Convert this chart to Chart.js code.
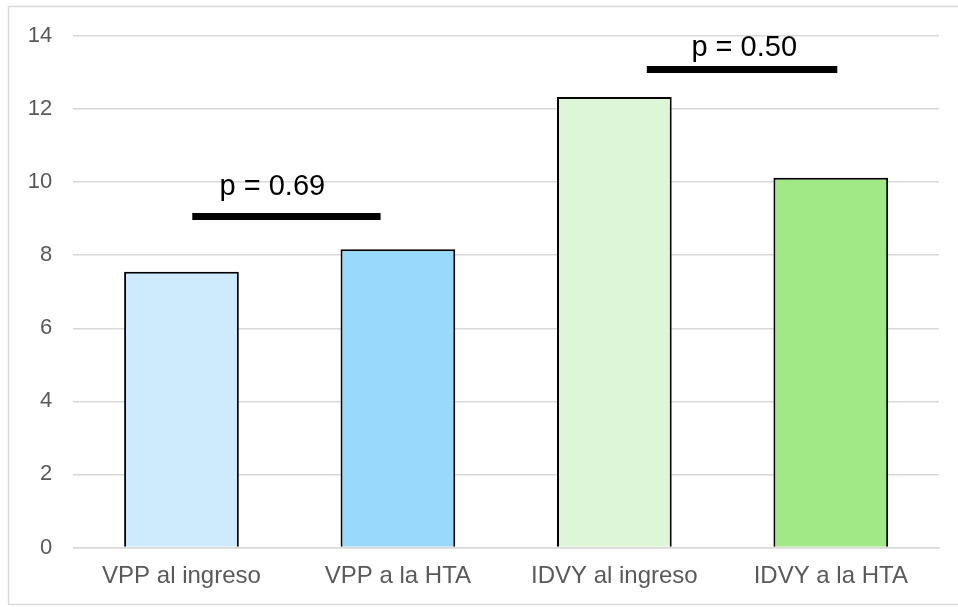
<!DOCTYPE html>
<html>
<head>
<meta charset="utf-8">
<script src="https://cdn.jsdelivr.net/npm/chart.js@4/dist/chart.umd.min.js"></script>
<style>
  html, body { margin: 0; padding: 0; background: #fff; }
  #wrap { width: 958px; height: 607px; position: relative; }
</style>
</head>
<body>
<div id="wrap"><canvas id="c"></canvas></div>
<script>
const categories = ['VPP al ingreso', 'VPP a la HTA', 'IDVY al ingreso', 'IDVY a la HTA'];
const values = [7.55, 8.16, 12.33, 10.12];
const barColors = ['#cdebfd', '#99dafc', '#ddf6d7', '#a1e986'];
const yTicks = [0, 2, 4, 6, 8, 10, 12, 14];

// comparison bars: category span, height, p label
const pText = ['p = 0.69', 'p = 0.50'];
const pLevel = [9.06, 13.08];
const pFrom = [0.05, 2.15];
const pTo = [0.92, 3.03];
const pTextX = [0.42, 2.6];
const pTextY = [9.64, 13.44];

const FONT = '"Liberation Sans", Arial, sans-serif';

let lineSets = pText.map((t, i) => ({
  type: 'line',
  xAxisID: 'xl',
  data: [{x: pFrom[i], y: pLevel[i]}, {x: pTo[i], y: pLevel[i]}],
  borderColor: '#000',
  borderWidth: 7,
  borderCapStyle: 'butt',
  pointRadius: 0,
  fill: false,
  order: 0
}));

const framePlugin = {
  id: 'frame',
  beforeDraw(chart) {
    let ctx = chart.ctx;
    ctx.save();
    ctx.fillStyle = '#fff';
    ctx.fillRect(0, 0, chart.width, chart.height);
    ctx.strokeStyle = '#d9d9d9';
    ctx.lineWidth = 1.5;
    ctx.strokeRect(8.5, 6.5, chart.width + 10, 598);
    ctx.restore();
  }
};

const pLabelPlugin = {
  id: 'plabels',
  afterDatasetsDraw(chart) {
    let ctx = chart.ctx;
    let xs = chart.scales.xl, ys = chart.scales.y;
    ctx.save();
    ctx.fillStyle = '#000';
    ctx.font = '29px ' + FONT;
    ctx.textAlign = 'center';
    ctx.textBaseline = 'alphabetic';
    pText.forEach((t, i) => {
      ctx.fillText(t, xs.getPixelForValue(pTextX[i]), ys.getPixelForValue(pTextY[i]));
    });
    ctx.restore();
  }
};

new Chart(document.getElementById('c'), {
  type: 'bar',
  data: {
    labels: categories,
    datasets: [{
      data: values,
      backgroundColor: barColors,
      borderColor: '#000',
      borderWidth: 2,
      grouped: false,
      categoryPercentage: 1,
      barPercentage: 0.53,
      order: 1
    }].concat(lineSets)
  },
  options: {
    responsive: true,
    maintainAspectRatio: false,
    animation: false,
    layout: { padding: { left: 0, right: 19, top: 36, bottom: 0 } },
    plugins: { legend: { display: false }, tooltip: { enabled: false } },
    scales: {
      x: {
        grid: { display: false, drawTicks: false },
        border: { color: '#d9d9d9', width: 1.5 },
        ticks: { color: '#595959', font: { family: FONT, size: 24 }, padding: 14, maxRotation: 0, autoSkip: false },
        afterFit: s => { s.height = 59.5; }
      },
      xl: {
        type: 'linear',
        display: false,
        offset: false,
        min: -0.5,
        max: 3.5
      },
      y: {
        min: 0,
        max: 14,
        afterBuildTicks: s => { s.ticks = yTicks.map(v => ({value: v})); },
        grid: { color: '#d9d9d9', lineWidth: 1.5, drawTicks: false },
        border: { display: false },
        ticks: { color: '#595959', font: { family: FONT, size: 22 }, padding: 21 },
        afterFit: s => { s.width = 73.25; }
      }
    }
  },
  plugins: [framePlugin, pLabelPlugin]
});
</script>
</body>
</html>
